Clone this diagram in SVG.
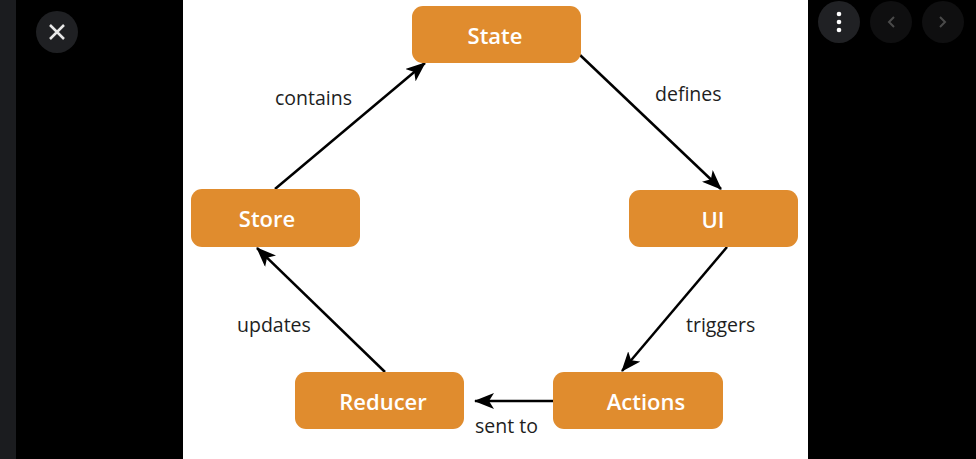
<svg xmlns="http://www.w3.org/2000/svg" width="976" height="459" viewBox="0 0 976 459">
<style>
.node rect{fill:#E08C2E}
.node text{fill:#fff;font-family:"Open Sans","Noto Sans",sans-serif;font-weight:600;font-size:22px;text-anchor:middle}
.lbl{fill:#1e1e1e;font-family:"Open Sans","Noto Sans",sans-serif;font-size:19.5px}
.edge{stroke:#000;stroke-width:2.5;fill:none;marker-end:url(#ah)}
</style>
<defs>
<marker id="ah" viewBox="0 0 20 16" refX="19" refY="8" markerWidth="20" markerHeight="16" markerUnits="userSpaceOnUse" orient="auto">
<path d="M0,0 L20,8 L0,16 L5,8 Z" fill="#000"/>
</marker>
</defs>
<rect x="0" y="0" width="976" height="459" fill="#000"/>
<rect x="0" y="0" width="16" height="459" fill="#1b1c1f"/>
<rect x="183" y="0" width="625" height="459" fill="#fff"/>
<g id="close-button">
<circle cx="57" cy="32" r="21" fill="#1f2023"/>
<path d="M50,25 L64,39 M64,25 L50,39" stroke="#e8e8e8" stroke-width="2.5"/>
</g>
<g id="menu-button">
<circle cx="839" cy="22" r="21" fill="#202124"/>
<circle cx="839" cy="14" r="2.3" fill="#fff"/>
<circle cx="839" cy="22" r="2.3" fill="#fff"/>
<circle cx="839" cy="30" r="2.3" fill="#fff"/>
</g>
<g id="prev-button">
<circle cx="891" cy="22" r="21" fill="#0f0f10"/>
<path d="M894,17 L889,22 L894,27" stroke="#4a4a4a" stroke-width="2" fill="none"/>
</g>
<g id="next-button">
<circle cx="943" cy="22" r="21" fill="#0f0f10"/>
<path d="M940,17 L945,22 L940,27" stroke="#4a4a4a" stroke-width="2" fill="none"/>
</g>
<g id="connectors">
<line class="edge" x1="275" y1="189" x2="425" y2="63"/>
<line class="edge" x1="580" y1="55" x2="721" y2="189"/>
<line class="edge" x1="727" y1="247" x2="622" y2="371"/>
<line class="edge" x1="553" y1="401" x2="475" y2="401"/>
<line class="edge" x1="385" y1="372" x2="257" y2="248"/>
<text class="lbl" x="275" y="105">contains</text>
<text class="lbl" x="655" y="101">defines</text>
<text class="lbl" x="686" y="332">triggers</text>
<text class="lbl" x="237" y="332">updates</text>
<text class="lbl" x="475" y="433">sent to</text>
</g>
<g id="state" class="node"><rect x="412" y="6" width="169" height="57" rx="11"/><text x="495" y="44">State</text></g>
<g id="ui" class="node"><rect x="629" y="190" width="169" height="57" rx="11"/><text x="713" y="228">UI</text></g>
<g id="store" class="node"><rect x="191" y="189" width="169" height="58" rx="11"/><text x="267" y="227">Store</text></g>
<g id="reducer" class="node"><rect x="295" y="372" width="169" height="57" rx="11"/><text x="383" y="410">Reducer</text></g>
<g id="actions" class="node"><rect x="553" y="372" width="170" height="57" rx="11"/><text x="646" y="410">Actions</text></g>
</svg>
